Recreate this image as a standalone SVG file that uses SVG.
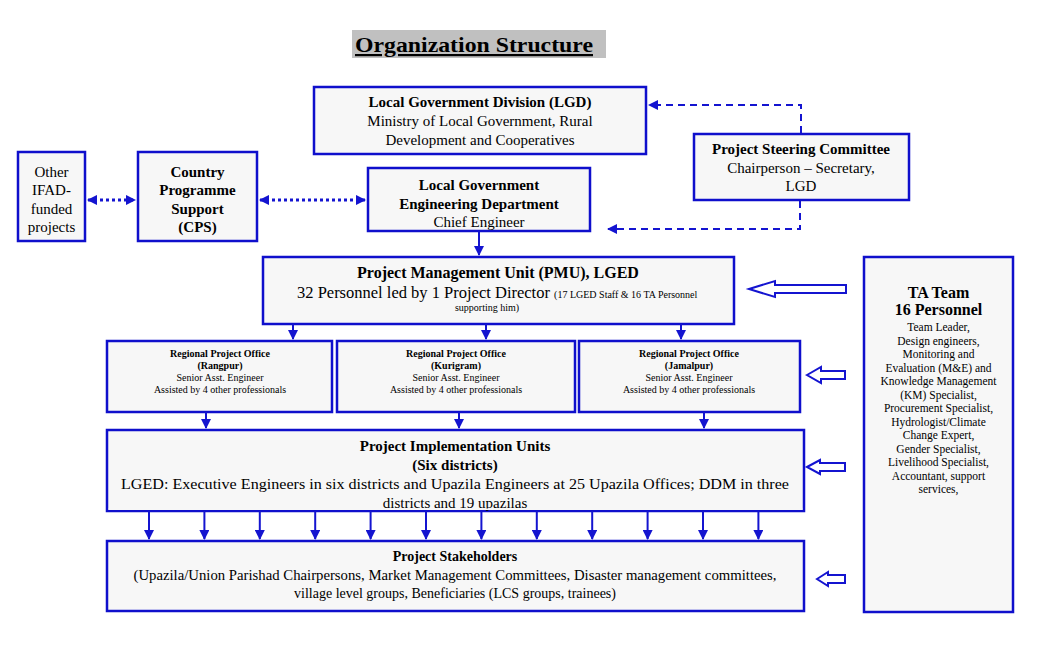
<svg xmlns="http://www.w3.org/2000/svg" width="1037" height="645" viewBox="0 0 1037 645">
<style>
text{fill:#000;text-anchor:middle;font-family:"Liberation Serif",Tinos,"Times New Roman",Times,"DejaVu Serif",serif}
.box{fill:#f7f7f7;stroke:#0f0fcc;stroke-width:2.5}
.b{font-weight:bold}
.ln{stroke:#1414d0;stroke-width:2;fill:none}
.dot{stroke:#1414d0;stroke-width:3;stroke-dasharray:3 3;fill:none}
.dash{stroke:#1414d0;stroke-width:2;stroke-dasharray:7 5;fill:none}
.blk{fill:#fff;stroke:#1414d0;stroke-width:2}
</style>
<defs>
<marker id="ah" viewBox="0 0 10 10" refX="9" refY="5" markerWidth="5" markerHeight="5" orient="auto-start-reverse" markerUnits="strokeWidth"><path d="M0,0 L10,5 L0,10 z" fill="#1414d0"/></marker>
<marker id="ahs" viewBox="0 0 10 10" refX="9" refY="5" markerWidth="3.5" markerHeight="3.5" orient="auto-start-reverse" markerUnits="strokeWidth"><path d="M0,0 L10,5 L0,10 z" fill="#1414d0"/></marker>
</defs>
<rect width="1037" height="645" fill="#fff"/>
<g id="title">
<rect x="352" y="30" width="254" height="28" fill="#c0c0c0"/>
<text x="355" y="52" class="b" font-size="22" style="text-anchor:start" text-decoration="underline" textLength="238" lengthAdjust="spacingAndGlyphs">Organization Structure</text>
</g>
<g id="lgd">
<rect class="box" x="314" y="87" width="332" height="67"/>
<text x="480" y="107" font-size="15" class="b">Local Government Division  (LGD)</text>
<text x="480" y="126" font-size="15">Ministry of Local Government, Rural</text>
<text x="480" y="145" font-size="15">Development and Cooperatives</text>
</g>
<g id="psc">
<rect class="box" x="694" y="134" width="215" height="66"/>
<text x="801" y="154" font-size="15" class="b">Project Steering Committee</text>
<text x="801" y="173" font-size="15">Chairperson – Secretary,</text>
<text x="801" y="191" font-size="15">LGD</text>
</g>
<g id="other">
<rect class="box" x="18" y="152" width="67" height="89"/>
<text x="51.5" y="177" font-size="15">Other</text>
<text x="51.5" y="195" font-size="15">IFAD-</text>
<text x="51.5" y="214" font-size="15">funded</text>
<text x="51.5" y="232" font-size="15">projects</text>
</g>
<g id="cps">
<rect class="box" x="138" y="152" width="119" height="89"/>
<text x="197.5" y="177" font-size="15" class="b">Country</text>
<text x="197.5" y="195" font-size="15" class="b">Programme</text>
<text x="197.5" y="214" font-size="15" class="b">Support</text>
<text x="197.5" y="232" font-size="15" class="b">(CPS)</text>
</g>
<g id="lged">
<rect class="box" x="368" y="168" width="222" height="63"/>
<text x="479" y="190" font-size="15" class="b">Local Government</text>
<text x="479" y="209" font-size="15" class="b">Engineering Department</text>
<text x="479" y="227" font-size="15">Chief Engineer</text>
</g>
<g id="pmu">
<rect class="box" x="263" y="257" width="471" height="67"/>
<text x="498" y="278" font-size="16" class="b">Project Management Unit (PMU), LGED</text>
<text x="297" y="298" font-size="16.5" style="text-anchor:start">32 Personnel led by 1 Project Director <tspan font-size="10">(17 LGED Staff &amp; 16 TA Personnel</tspan></text>
<text x="487" y="311" font-size="10">supporting him)</text>
</g>
<g id="rpo-rangpur">
<rect class="box" x="107" y="341" width="225" height="71"/>
<text x="220" y="357" font-size="10" class="b">Regional Project Office</text>
<text x="220" y="369" font-size="10" class="b">(Rangpur)</text>
<text x="220" y="381" font-size="10">Senior Asst. Engineer</text>
<text x="220" y="393" font-size="10">Assisted by 4 other professionals</text>
</g>
<g id="rpo-kurigram">
<rect class="box" x="337" y="341" width="238" height="71"/>
<text x="456" y="357" font-size="10" class="b">Regional Project Office</text>
<text x="456" y="369" font-size="10" class="b">(Kurigram)</text>
<text x="456" y="381" font-size="10">Senior Asst. Engineer</text>
<text x="456" y="393" font-size="10">Assisted by 4 other professionals</text>
</g>
<g id="rpo-jamalpur">
<rect class="box" x="579" y="341" width="221" height="71"/>
<text x="689" y="357" font-size="10" class="b">Regional Project Office</text>
<text x="689" y="369" font-size="10" class="b">(Jamalpur)</text>
<text x="689" y="381" font-size="10">Senior Asst. Engineer</text>
<text x="689" y="393" font-size="10">Assisted by 4 other professionals</text>
</g>
<g id="piu">
<rect class="box" x="107" y="430" width="697" height="81"/>
<text x="455" y="451" font-size="15" class="b">Project Implementation Units</text>
<text x="455" y="470" font-size="15" class="b">(Six districts)</text>
<text x="455" y="489" font-size="15" textLength="668" lengthAdjust="spacingAndGlyphs">LGED: Executive Engineers in six districts and Upazila Engineers at 25 Upazila Offices; DDM in three</text>
<text x="455" y="507.5" font-size="15">districts and 19 upazilas</text>
<rect x="108.5" y="508.5" width="694" height="1.5" fill="#f7f7f7"/>
</g>
<g id="stakeholders">
<rect class="box" x="107" y="541" width="697" height="70"/>
<text x="455" y="561" font-size="14" class="b">Project Stakeholders</text>
<text x="455" y="580" font-size="14" textLength="643" lengthAdjust="spacingAndGlyphs">(Upazila/Union Parishad Chairpersons, Market Management Committees, Disaster management committees,</text>
<text x="455" y="598" font-size="14">village level groups, Beneficiaries (LCS groups, trainees)</text>
</g>
<g id="ta-team">
<rect class="box" x="864" y="257" width="149" height="355"/>
<text x="938.5" y="298" font-size="16" class="b">TA Team</text>
<text x="938.5" y="315" font-size="16" class="b">16 Personnel</text>
<text x="938.5" y="331" font-size="11.5">Team Leader,</text>
<text x="938.5" y="344.5" font-size="11.5">Design engineers,</text>
<text x="938.5" y="358" font-size="11.5">Monitoring and</text>
<text x="938.5" y="371.5" font-size="11.5">Evaluation  (M&amp;E) and</text>
<text x="938.5" y="385" font-size="11.5">Knowledge Management</text>
<text x="938.5" y="398.5" font-size="11.5">(KM) Specialist,</text>
<text x="938.5" y="412" font-size="11.5">Procurement Specialist,</text>
<text x="938.5" y="425.5" font-size="11.5">Hydrologist/Climate</text>
<text x="938.5" y="439" font-size="11.5">Change Expert,</text>
<text x="938.5" y="452.5" font-size="11.5">Gender Specialist,</text>
<text x="938.5" y="466" font-size="11.5">Livelihood  Specialist,</text>
<text x="938.5" y="479.5" font-size="11.5">Accountant, support</text>
<text x="938.5" y="493" font-size="11.5">services,</text>
</g>
<g id="connectors">
<path class="dot" d="M88 200 H135" marker-start="url(#ahs)" marker-end="url(#ahs)"/>
<path class="dot" d="M260 200 H365" marker-start="url(#ahs)" marker-end="url(#ahs)"/>
<path class="dash" d="M801 133 V105 H649" marker-end="url(#ah)"/>
<path class="dash" d="M800 201 V229 H608" marker-end="url(#ah)"/>
<path class="ln" d="M479 231 V255" marker-end="url(#ah)"/>
<path class="ln" d="M293 324 V339" marker-end="url(#ah)"/>
<path class="ln" d="M486 324 V339" marker-end="url(#ah)"/>
<path class="ln" d="M681 324 V339" marker-end="url(#ah)"/>
<path class="ln" d="M206 412 V428" marker-end="url(#ah)"/>
<path class="ln" d="M459 412 V428" marker-end="url(#ah)"/>
<path class="ln" d="M704 412 V428" marker-end="url(#ah)"/>
<path class="ln" d="M149 511 V539" marker-end="url(#ah)"/>
<path class="ln" d="M204.4 511 V539" marker-end="url(#ah)"/>
<path class="ln" d="M259.8 511 V539" marker-end="url(#ah)"/>
<path class="ln" d="M315.2 511 V539" marker-end="url(#ah)"/>
<path class="ln" d="M370.6 511 V539" marker-end="url(#ah)"/>
<path class="ln" d="M426 511 V539" marker-end="url(#ah)"/>
<path class="ln" d="M481.4 511 V539" marker-end="url(#ah)"/>
<path class="ln" d="M536.8 511 V539" marker-end="url(#ah)"/>
<path class="ln" d="M592.2 511 V539" marker-end="url(#ah)"/>
<path class="ln" d="M647.6 511 V539" marker-end="url(#ah)"/>
<path class="ln" d="M703 511 V539" marker-end="url(#ah)"/>
<path class="ln" d="M758.4 511 V539" marker-end="url(#ah)"/>
<polygon class="blk" points="749,289 775,281 775,285 846,285 846,293 775,293 775,297"/>
<polygon class="blk" points="807,375 821,367 821,371 845,371 845,379 821,379 821,383"/>
<polygon class="blk" points="807,467 820,460 820,463 845,463 845,471 820,471 820,474"/>
<polygon class="blk" points="817,579 828,572 828,575 845,575 845,583 828,583 828,586"/>
</g>
</svg>
